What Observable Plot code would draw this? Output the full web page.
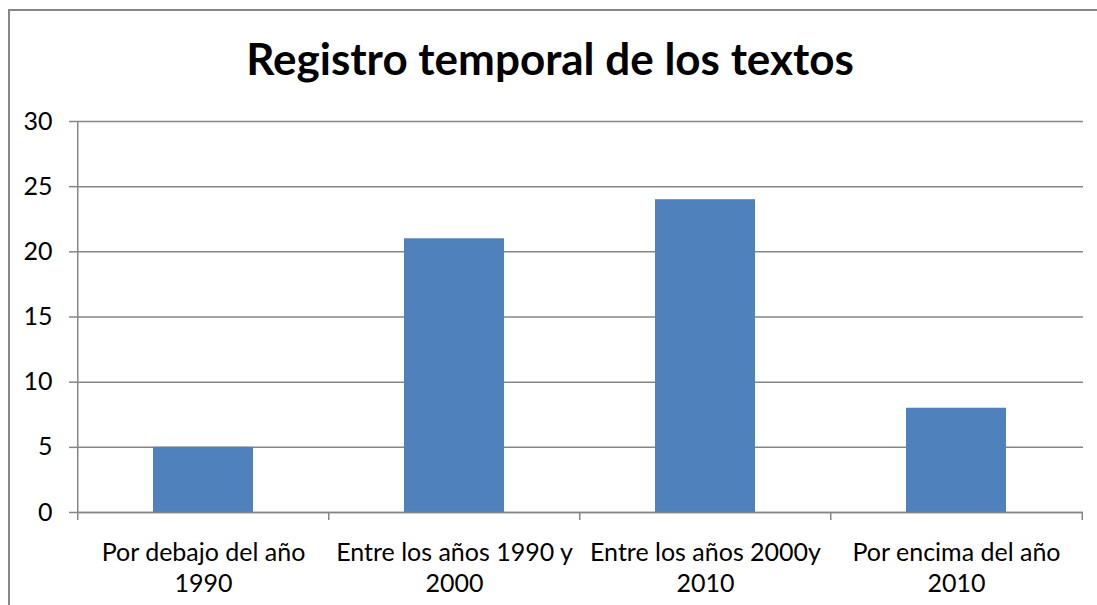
<!DOCTYPE html>
<html><head><meta charset="utf-8">
<script src="https://cdn.jsdelivr.net/npm/d3@7"></script>
<script src="https://cdn.jsdelivr.net/npm/@observablehq/plot@0.6"></script>
<style>
html,body{margin:0;padding:0;background:#fff;overflow:hidden;}
#wrap{position:relative;width:1097px;height:605px;overflow:hidden;}
#border{position:absolute;left:8px;top:9px;width:1200px;height:700px;border-left:2px solid #878787;border-top:2px solid #878787;box-sizing:border-box;}
#title{position:absolute;left:0;width:1100px;top:33px;line-height:50px;text-align:center;font-family:Lato,sans-serif;font-weight:bold;font-size:44px;color:#000;white-space:nowrap;}
#chart{position:absolute;left:0;top:0;}
</style>
</head><body>
<div id="wrap"><div id="border"></div><div id="chart"></div><div id="title">Registro temporal de los textos</div></div>
<script>
const categories = ["Por debajo del año 1990", "Entre los años 1990 y 2000", "Entre los años 2000y 2010", "Por encima del año 2010"];
const tickLabels = ["Por debajo del año\n1990", "Entre los años 1990 y\n2000", "Entre los años 2000y\n2010", "Por encima del año\n2010"];
const values = [5, 21, 24, 8];
const yTicks = [0, 5, 10, 15, 20, 25, 30];

const W = 1097, H = 605, mL = 77, mR = 14, mT = 121, mB = 93;
const step = (W - mL - mR) / categories.length;
const unit = (H - mT - mB) / 30;
const tickLen = 8 / unit;
const data = categories.map((c, i) => ({category: c, value: values[i]}));
const lineColor = "#868686";

const chart = Plot.plot({
  width: W, height: H,
  marginLeft: mL, marginRight: mR, marginTop: mT, marginBottom: mB,
  style: {fontFamily: "Lato, sans-serif", fontSize: "25px", color: "#000", background: "transparent"},
  x: {domain: categories, paddingInner: 0.6, paddingOuter: 0.3},
  y: {domain: [0, 30]},
  marks: [
    Plot.gridY(yTicks, {stroke: lineColor, strokeOpacity: 1, strokeWidth: 1.5}),
    Plot.barY(data, {x: "category", y: "value", fill: "#4F81BD"}),
    Plot.ruleY([0], {stroke: lineColor, strokeWidth: 1.5}),
    Plot.ruleX([categories[0]], {dx: -step / 2, y1: -tickLen, y2: 30, stroke: lineColor, strokeWidth: 1.5}),
    Plot.ruleX(categories.slice(1), {dx: -step / 2, y1: -tickLen, y2: 0, stroke: lineColor, strokeWidth: 1.5}),
    Plot.ruleX([categories[categories.length - 1]], {dx: step / 2, y1: -tickLen, y2: 0, stroke: lineColor, strokeWidth: 1.5}),
    Plot.axisY(yTicks, {tickSize: 8, tickPadding: 17, stroke: lineColor, strokeWidth: 1.5, fill: "#000", label: null}),
    Plot.axisX({tickSize: 0, tickPadding: 26, lineHeight: 1.24, fill: "#000", label: null,
      tickFormat: d => tickLabels[categories.indexOf(d)]})
  ]
});
document.getElementById("chart").appendChild(chart);
</script>
</body></html>
